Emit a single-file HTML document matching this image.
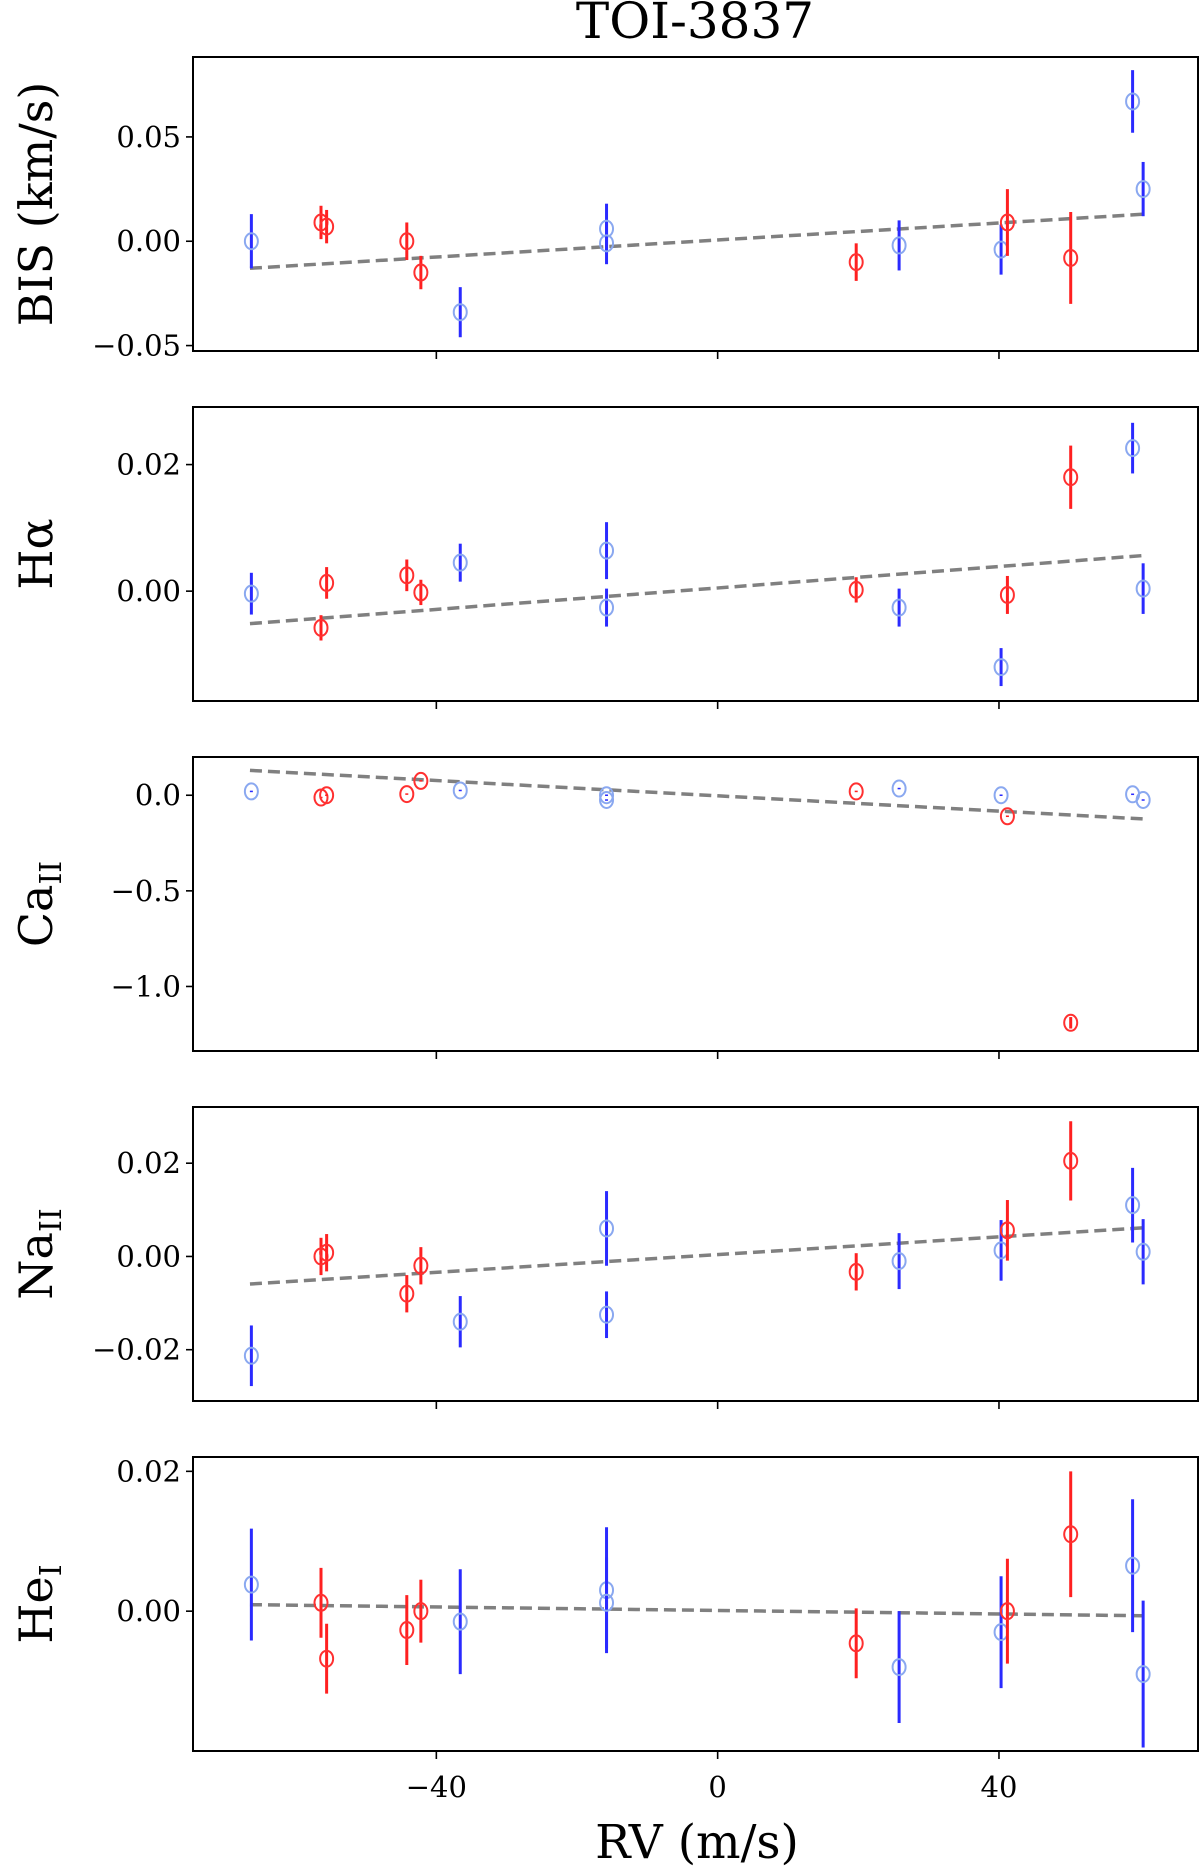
<!DOCTYPE html>
<html><head><meta charset="utf-8"><style>
html,body{margin:0;padding:0;background:#fff;}
svg{display:block;}
text{font-family:"DejaVu Serif","Liberation Serif",serif;fill:#000;}
</style></head><body>
<svg id="fig" width="1200" height="1866" viewBox="0 0 1200 1866" xmlns="http://www.w3.org/2000/svg">
<text x="695" y="38" font-size="50" text-anchor="middle">TOI-3837</text>
<text x="697" y="1858" font-size="47" text-anchor="middle">RV (m/s)</text>
</svg>
<script>
const blueRV = [-66.3, -36.6, -15.8, -15.8, 25.8, 40.3, 59, 60.5];
const redRV = [-56.4, -55.6, -44.2, -42.2, 19.7, 41.2, 50.2];
const xTicks = [-40, 0, 40];

const bisBlue = [0, -0.034, 0.006, -0.001, -0.002, -0.004, 0.067, 0.025];
const bisBlueErr = [0.013, 0.012, 0.012, 0.01, 0.012, 0.012, 0.015, 0.013];
const bisRed = [0.009, 0.007, 0, -0.015, -0.010, 0.009, -0.008];
const bisRedErr = [0.008, 0.008, 0.009, 0.008, 0.009, 0.016, 0.022];
const bisFit = [0.0006, 0.000204];
const bisTicks = [0.05, 0.00, -0.05];

const haBlue = [-0.0004, 0.0045, 0.0064, -0.0026, -0.0026, -0.012, 0.0226, 0.0004];
const haBlueErr = [0.0033, 0.003, 0.0045, 0.003, 0.003, 0.003, 0.004, 0.004];
const haRed = [-0.0058, 0.0013, 0.0025, -0.0002, 0.0002, -0.0006, 0.018];
const haRedErr = [0.002, 0.0025, 0.0025, 0.002, 0.002, 0.003, 0.005];
const haFit = [0.0005, 0.0000847];
const haTicks = [0.02, 0.00];

const caBlue = [0.02, 0.025, 0.0, -0.025, 0.035, 0.0, 0.005, -0.025];
const caBlueErr = [0.004, 0.004, 0.004, 0.004, 0.004, 0.004, 0.004, 0.004];
const caRed = [-0.012, 0.0, 0.006, 0.075, 0.02, -0.11, -1.19];
const caRedErr = [0.004, 0.004, 0.004, 0.004, 0.004, 0.004, 0.03];
const caFit = [-0.003, -0.002];
const caTicks = [0.0, -0.5, -1.0];

const naBlue = [-0.0213, -0.014, 0.006, -0.0125, -0.001, 0.0013, 0.011, 0.001];
const naBlueErr = [0.0065, 0.0055, 0.008, 0.005, 0.006, 0.0065, 0.008, 0.007];
const naRed = [0, 0.0008, -0.008, -0.002, -0.0033, 0.0056, 0.0205];
const naRedErr = [0.004, 0.004, 0.004, 0.004, 0.004, 0.0065, 0.0085];
const naFit = [0.0004, 0.0000949];
const naTicks = [0.02, 0.00, -0.02];

const heBlue = [0.0038, -0.0015, 0.003, 0.0012, -0.008, -0.003, 0.0065, -0.009];
const heBlueErr = [0.008, 0.0075, 0.009, 0.0065, 0.008, 0.008, 0.0095, 0.0105];
const heRed = [0.0012, -0.0068, -0.0027, 0, -0.0046, 0, 0.011];
const heRedErr = [0.005, 0.005, 0.005, 0.0045, 0.005, 0.0075, 0.009];
const heFit = [0.0001, -0.0000125];
const heTicks = [0.02, 0.00];

const NS = "http://www.w3.org/2000/svg";
const svg = document.getElementById('fig');
const X0 = 193, X1 = 1198, XMIN = -74.6, XMAX = 68.3;
const xs = v => X0 + (v - XMIN) / (XMAX - XMIN) * (X1 - X0);
const FIT_X = [-66.5, 61];

function mk(tag, attrs, parent) {
  const e = document.createElementNS(NS, tag);
  for (const k in attrs) e.setAttribute(k, attrs[k]);
  (parent || svg).appendChild(e);
  return e;
}

const panels = [
  {key:'bis', top:57, ymax:0.0883, ymin:-0.0526, blue:bisBlue, be:bisBlueErr, red:bisRed, re:bisRedErr, fit:bisFit, ticks:bisTicks, fmt:v=>v.toFixed(2), label:['BIS (km/s)', '']},
  {key:'halpha', top:407, ymax:0.0291, ymin:-0.01736, blue:haBlue, be:haBlueErr, red:haRed, re:haRedErr, fit:haFit, ticks:haTicks, fmt:v=>v.toFixed(2), label:['Hα', '']},
  {key:'caii', top:757, ymax:0.2, ymin:-1.3375, blue:caBlue, be:caBlueErr, red:caRed, re:caRedErr, fit:caFit, ticks:caTicks, fmt:v=>v.toFixed(1), label:['Ca', 'II']},
  {key:'naii', top:1107, ymax:0.03205, ymin:-0.031, blue:naBlue, be:naBlueErr, red:naRed, re:naRedErr, fit:naFit, ticks:naTicks, fmt:v=>v.toFixed(2), label:['Na', 'II']},
  {key:'hei', top:1457, ymax:0.02205, ymin:-0.02, blue:heBlue, be:heBlueErr, red:heRed, re:heRedErr, fit:heFit, ticks:heTicks, fmt:v=>v.toFixed(2), label:['He', 'I']}
];
const H = 294;

panels.forEach((p, pi) => {
  const g = mk('g', {});
  
  
  const ys = v => p.top + (p.ymax - v) / (p.ymax - p.ymin) * H;
  const box = mk('rect', {x:X0, y:p.top, width:X1 - X0, height:H, fill:'none', stroke:'#000', 'stroke-width':2}, g);
  
  
  p.ticks.forEach(t => {
    const y = ys(t);
    const tk = mk('line', {x1:X0 - 7, x2:X0, y1:y, y2:y, stroke:'#000', 'stroke-width':1.6}, g);
    
    
    const tl = mk('text', {x:X0 - 12, y:y + 10, 'font-size':29, 'text-anchor':'end'}, g);
    tl.textContent = (t < 0 ? '\u2212' + p.fmt(-t) : p.fmt(t));
    
    
  });
  xTicks.forEach(t => {
    const x = xs(t);
    const tk = mk('line', {x1:x, x2:x, y1:p.top + H, y2:p.top + H + 8, stroke:'#000', 'stroke-width':1.6}, g);
    
    
    if (pi === panels.length - 1) {
      const tl = mk('text', {x:x, y:p.top + H + 46, 'font-size':29, 'text-anchor':'middle'}, g);
      tl.textContent = t < 0 ? '\u2212' + (-t) : String(t);
      
      
    }
  });
  const cy = p.top + H / 2;
  const yl = mk('text', {x:0, y:0, 'font-size':46, 'text-anchor':'middle', transform:'translate(52,' + cy + ') rotate(-90)'}, g);
  
  
  const t1 = mk('tspan', {}, yl); t1.textContent = p.label[0];
  if (p.label[1]) { const t2 = mk('tspan', {'font-size':30, dy:9}, yl); t2.textContent = p.label[1]; }
  const fl = mk('line', {x1:xs(FIT_X[0]), y1:ys(p.fit[0] + p.fit[1] * FIT_X[0]), x2:xs(FIT_X[1]), y2:ys(p.fit[0] + p.fit[1] * FIT_X[1]), stroke:'#808080', 'stroke-width':3.5, 'stroke-dasharray':'12,6'}, g);
  
  
  const series = [[blueRV, p.blue, p.be, '#2a2aff', '#8aa8f0', 'blue'], [redRV, p.red, p.re, '#ff2020', '#ff3030', 'red']];
  series.forEach(s => {
    s[0].forEach((rv, i) => {
      const x = xs(rv), v = s[1][i], e = s[2][i];
      const eb = mk('line', {x1:x, x2:x, y1:ys(v + e), y2:ys(v - e), stroke:s[3], 'stroke-width':3}, g);
      
      
      const c = mk('ellipse', {cx:x, cy:ys(v), rx:6.5, ry:8, fill:'#fff', 'fill-opacity':0, stroke:s[4], 'stroke-width':2}, g);
      
      
    });
  });
});
</script>
</body></html>
